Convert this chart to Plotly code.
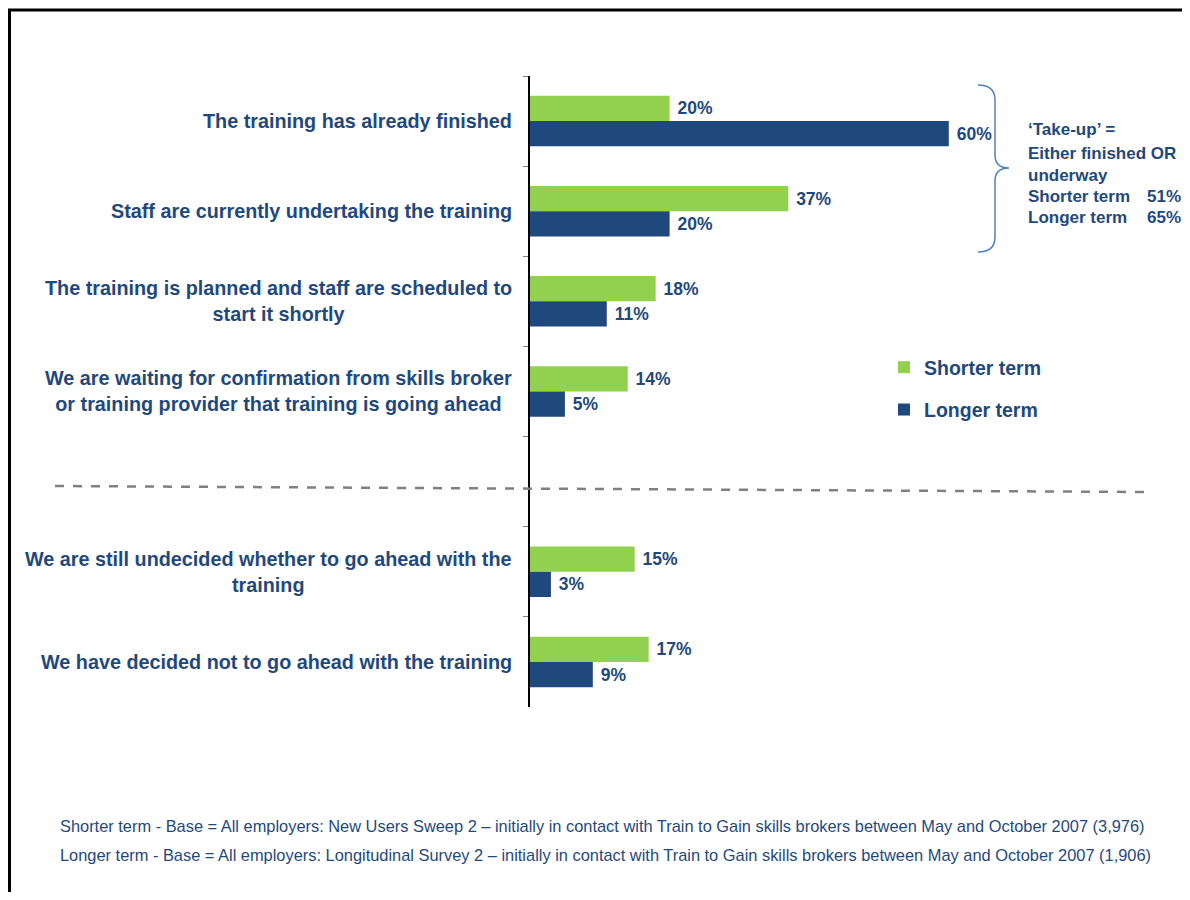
import plotly.graph_objects as go

# survey answers (blank entry = gap row under the dashed separator)
categories = [
    "The training has already finished",
    "Staff are currently undertaking the training",
    "The training is planned and staff are scheduled to<br>start it shortly",
    "We are waiting for confirmation from skills broker<br>or training provider that training is going ahead",
    " ",
    "We are still undecided whether to go ahead with the<br>training",
    "We have decided not to go ahead with the training",
]
shorter_term = [20, 37, 18, 14, None, 15, 17]
longer_term = [60, 20, 11, 5, None, 3, 9]

takeup_lines = ["\u2018Take-up\u2019 =", "Either finished OR", "underway", "Shorter term", "Longer term"]
takeup_values = ["51%", "65%"]

footnotes = [
    "Shorter term - Base = All employers: New Users Sweep 2 \u2013 initially in contact with Train to Gain skills brokers between May and October 2007 (3,976)",
    "Longer term - Base = All employers: Longitudinal Survey 2 \u2013 initially in contact with Train to Gain skills brokers between May and October 2007 (1,906)",
]

# page body has an 8px margin, so the figure is offset by 8px
OFF = 8
W, H = 1190 - OFF, 900 - 2 * OFF
navy = "#1F497D"
green = "#92D050"
font = "Liberation Sans, Arial, sans-serif"


def px(x):
    return (x - OFF) / W


def py(y):
    return 1 - (y - OFF) / H


fig = go.Figure()
for name, vals, col in [("Shorter term", shorter_term, green), ("Longer term", longer_term, navy)]:
    fig.add_trace(go.Bar(
        name=name, y=categories, x=vals, orientation="h",
        marker=dict(color=col, line_width=0),
        texttemplate="\u00a0%{x}%", textposition="outside",
        textfont=dict(family=font, size=17.5, color=navy, weight="bold"),
        cliponaxis=False, legendgroup=name, hoverinfo="skip",
    ))

annotations = []
for c in categories:
    if c.strip():
        annotations.append(dict(
            x=px(514), xref="paper", y=c, yref="y", xanchor="right", yanchor="middle",
            align="center", showarrow=False, text=c,
            font=dict(family=font, size=19.8, color=navy, weight="bold"),
        ))

ty = [130, 154, 175, 196, 217]
for line, y in zip(takeup_lines, ty):
    annotations.append(dict(
        x=px(1026), y=py(y), xref="paper", yref="paper", xanchor="left", yanchor="middle",
        showarrow=False, text=line,
        font=dict(family=font, size=17, color=navy, weight="bold"),
    ))
for v, y in zip(takeup_values, ty[3:]):
    annotations.append(dict(
        x=px(1183), y=py(y), xref="paper", yref="paper", xanchor="right", yanchor="middle",
        showarrow=False, text=v,
        font=dict(family=font, size=17, color=navy, weight="bold"),
    ))
for i, t in enumerate(footnotes):
    annotations.append(dict(
        x=px(58), y=py(826 + i * 29), xref="paper", yref="paper", xanchor="left", yanchor="middle",
        showarrow=False, text=t, font=dict(family=font, size=16.4, color=navy),
    ))

brace = (
    f"M {px(978)},{py(85)} Q {px(995)},{py(85)} {px(995)},{py(100)} "
    f"L {px(995)},{py(155)} Q {px(995)},{py(168)} {px(1009)},{py(168)} "
    f"Q {px(995)},{py(168)} {px(995)},{py(181)} "
    f"L {px(995)},{py(237)} Q {px(995)},{py(252)} {px(978)},{py(252)}"
)

shapes = [
    dict(type="path", path=brace, xref="paper", yref="paper", line=dict(color="#4F81BD", width=1.5)),
    dict(type="line", xref="paper", yref="paper", x0=px(55), y0=py(486), x1=px(1145), y1=py(492),
         line=dict(color="#808080", width=2.5, dash="dash")),
    dict(type="line", xref="paper", yref="paper", x0=px(8), y0=py(10), x1=1, y1=py(10),
         line=dict(color="black", width=3)),
    dict(type="line", xref="paper", yref="paper", x0=px(9.5), y0=py(9), x1=px(9.5), y1=0,
         line=dict(color="black", width=3)),
]

fig.update_layout(
    width=W, height=H, margin=dict(l=0, r=0, t=0, b=0),
    plot_bgcolor="white", paper_bgcolor="white",
    barmode="group", bargap=0.44, bargroupgap=0,
    font=dict(family=font, color=navy),
    xaxis=dict(domain=[px(530), px(530 + 70 * 6.98)], range=[0, 70], visible=False),
    yaxis=dict(domain=[py(707), py(76)], autorange="reversed", type="category",
               showticklabels=False, showline=True, linecolor="black", linewidth=1.5,
               ticks="outside", tickson="boundaries", ticklen=5, tickcolor="#808080",
               showgrid=False, zeroline=False),
    legend=dict(x=px(884), y=py(348), xanchor="left", yanchor="top",
                font=dict(family=font, size=19.5, color=navy, weight="bold"),
                tracegroupgap=14, traceorder="grouped", bgcolor="rgba(0,0,0,0)"),
    showlegend=True,
    annotations=annotations, shapes=shapes,
)

fig.write_html("out.html")
